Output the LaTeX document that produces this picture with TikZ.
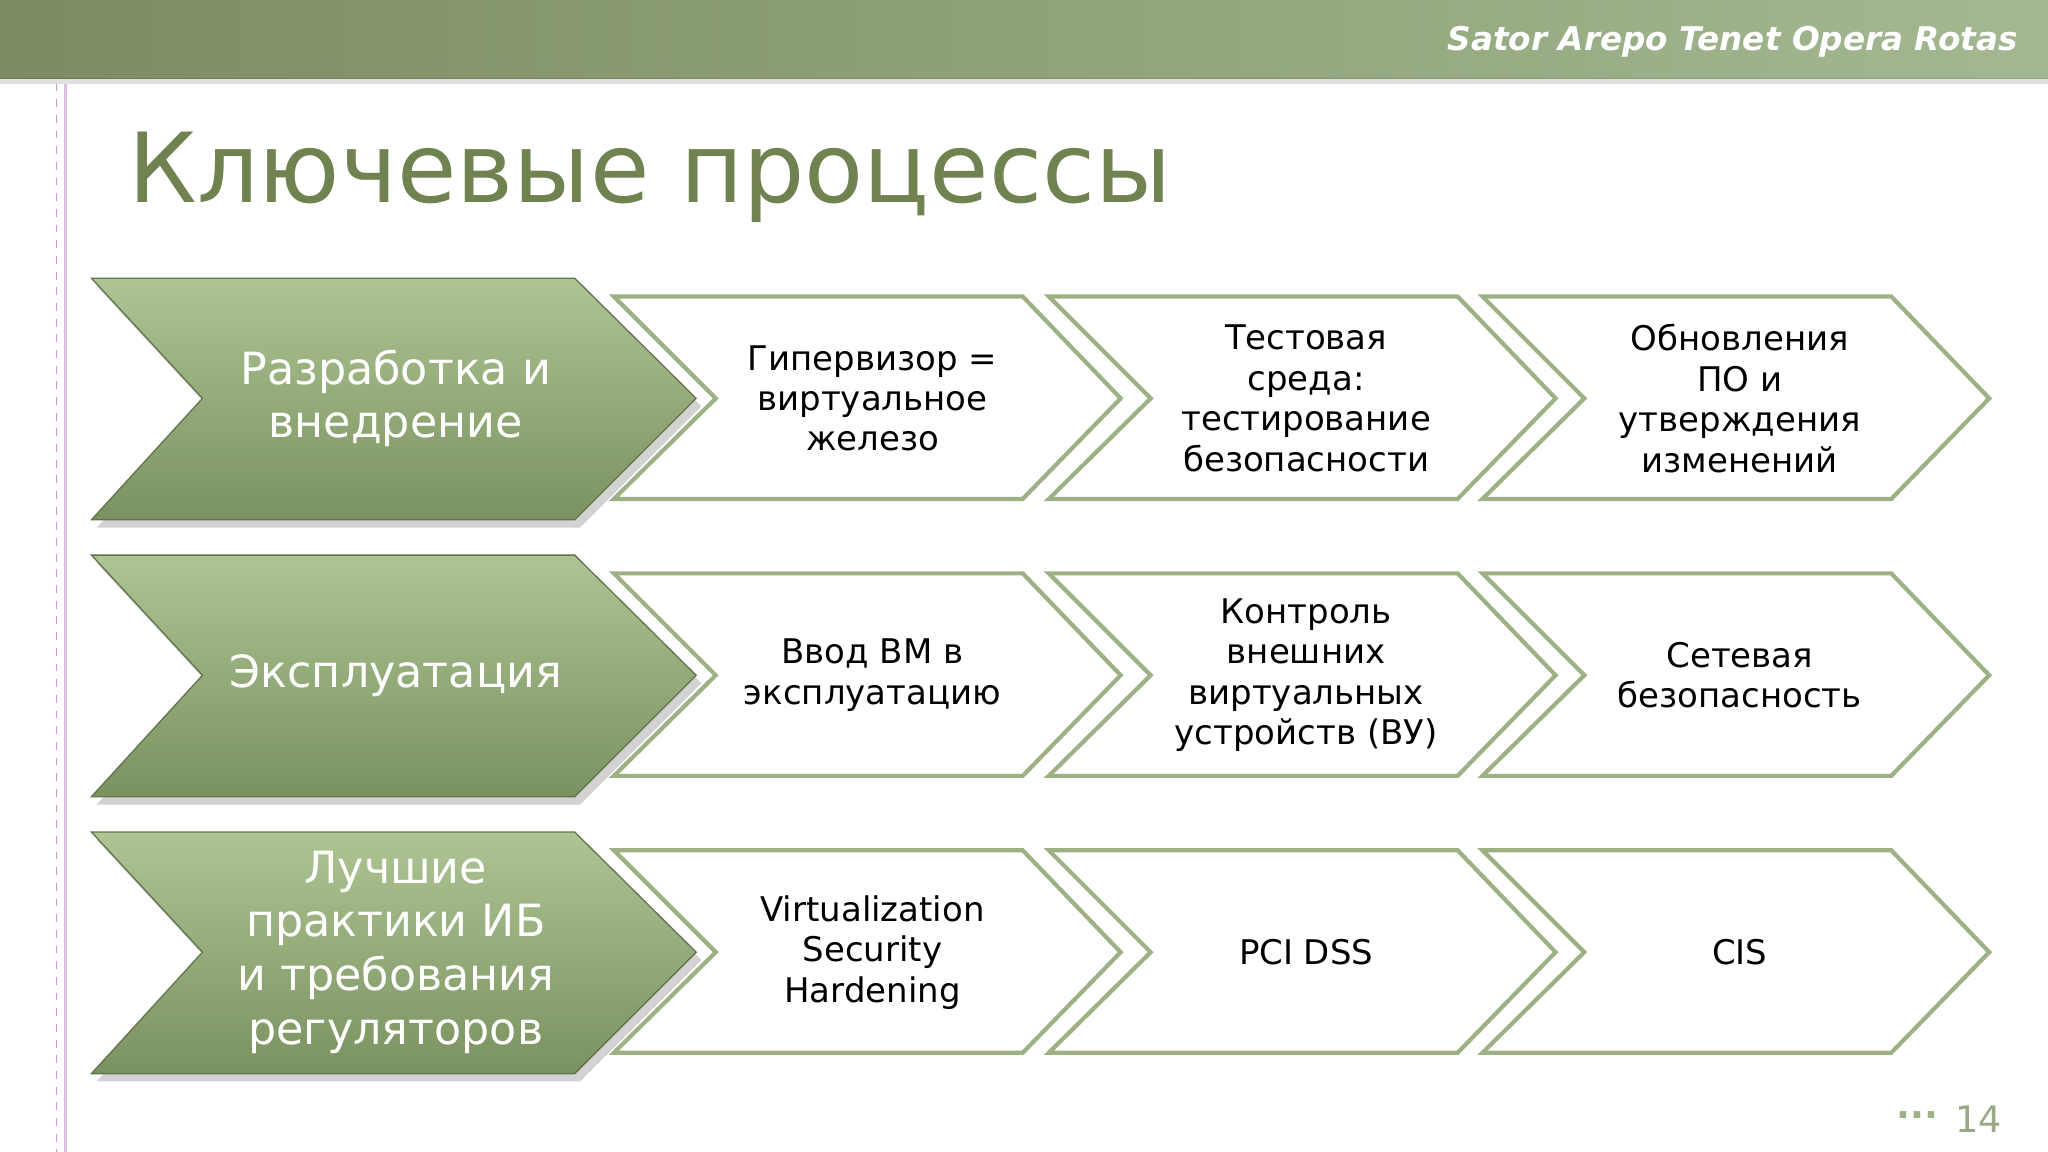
\documentclass[tikz,border=0pt]{standalone}
\usepackage{fontspec}
\setmainfont{DejaVu Sans}
\usetikzlibrary{shadows}
\definecolor{olive}{HTML}{6F8250}
\definecolor{bandL}{HTML}{7C8C62}
\definecolor{bandR}{HTML}{A3B891}
\definecolor{chevT}{HTML}{AEC593}
\definecolor{chevB}{HTML}{7A9160}
\definecolor{edge}{HTML}{9DB184}
\tikzset{
 bigchev/.style={top color=chevT,bottom color=chevB,draw=chevB!80!black,line width=0.5pt,
   drop shadow={shadow xshift=2pt,shadow yshift=-3pt,opacity=0.35}},
 smallchev/.style={fill=white,draw=edge,line width=1.6pt,line join=miter},
 bigtxt/.style={text=white,font=\fontsize{17}{20.5}\selectfont,align=center},
 smalltxt/.style={text=black,font=\fontsize{13}{15.5}\selectfont,align=center}
}
\begin{document}
\begin{tikzpicture}[x=0.5pt,y=-0.5pt]
\useasboundingbox (0,0) rectangle (1568,882);
\fill[white] (0,0) rectangle (1568,882);
\shade[left color=bandL,right color=bandR] (0,0) rectangle (1568,60);
\fill[black,opacity=0.12] (0,60) rectangle (1568,64);
\node[anchor=east,text=white,font=\fontsize{12.5}{15}\selectfont\bfseries\itshape] (hdr) at (1552,32) {Sator Arepo Tenet Opera Rotas};
\draw[draw=violet!40,dashed] (43,64) -- (43,882);
\draw[draw=violet!25,line width=1pt] (50,64) -- (50,882);
\node[anchor=base west,text=olive,font=\fontsize{37}{44}\selectfont,inner sep=0] (title) at (98,155) {Ключевые процессы};
\foreach \r/\t [count=\i] in {0/{Разработка и\\внедрение},212/{Эксплуатация},424/{Лучшие\\практики ИБ\\и требования\\регуляторов}}{
 \path[bigchev] (70,213+\r) -- (440,213+\r) -- (533,305+\r) -- (440,398+\r) -- (70,398+\r) -- (155,305+\r) -- cycle;
 \node[bigtxt] (b\i) at (303,305+\r) {\t};
}
\foreach \r [count=\i] in {0,212,424}{
 \foreach \x [count=\j] in {0,333,665}{
  \draw[smallchev] (470+\x,227+\r) -- (783+\x,227+\r) -- (858+\x,305+\r) -- (783+\x,382+\r) -- (470+\x,382+\r) -- (548+\x,305+\r) -- cycle;
 }
}
\node[smalltxt] (s11) at (668,305) {Гипервизор =\\виртуальное\\железо};
\node[smalltxt] (s12) at (1000,305) {Тестовая\\среда:\\тестирование\\безопасности};
\node[smalltxt] (s13) at (1332,305) {Обновления\\ПО и\\утверждения\\изменений};
\node[smalltxt] (s21) at (668,517) {Ввод ВМ в\\эксплуатацию};
\node[smalltxt] (s22) at (1000,517) {Контроль\\внешних\\виртуальных\\устройств (ВУ)};
\node[smalltxt] (s23) at (1332,517) {Сетевая\\безопасность};
\node[smalltxt] (s31) at (668,729) {Virtualization\\Security\\Hardening};
\node[smalltxt] (s32) at (1000,729) {PCI DSS};
\node[smalltxt] (s33) at (1332,729) {CIS};
\node[text=olive!70,font=\fontsize{14}{16}\selectfont] (pg) at (1515,857) {14};
\node[text=edge,font=\fontsize{14}{16}\selectfont\bfseries] (dots) at (1468,854) {...};
\end{tikzpicture}
\end{document}
